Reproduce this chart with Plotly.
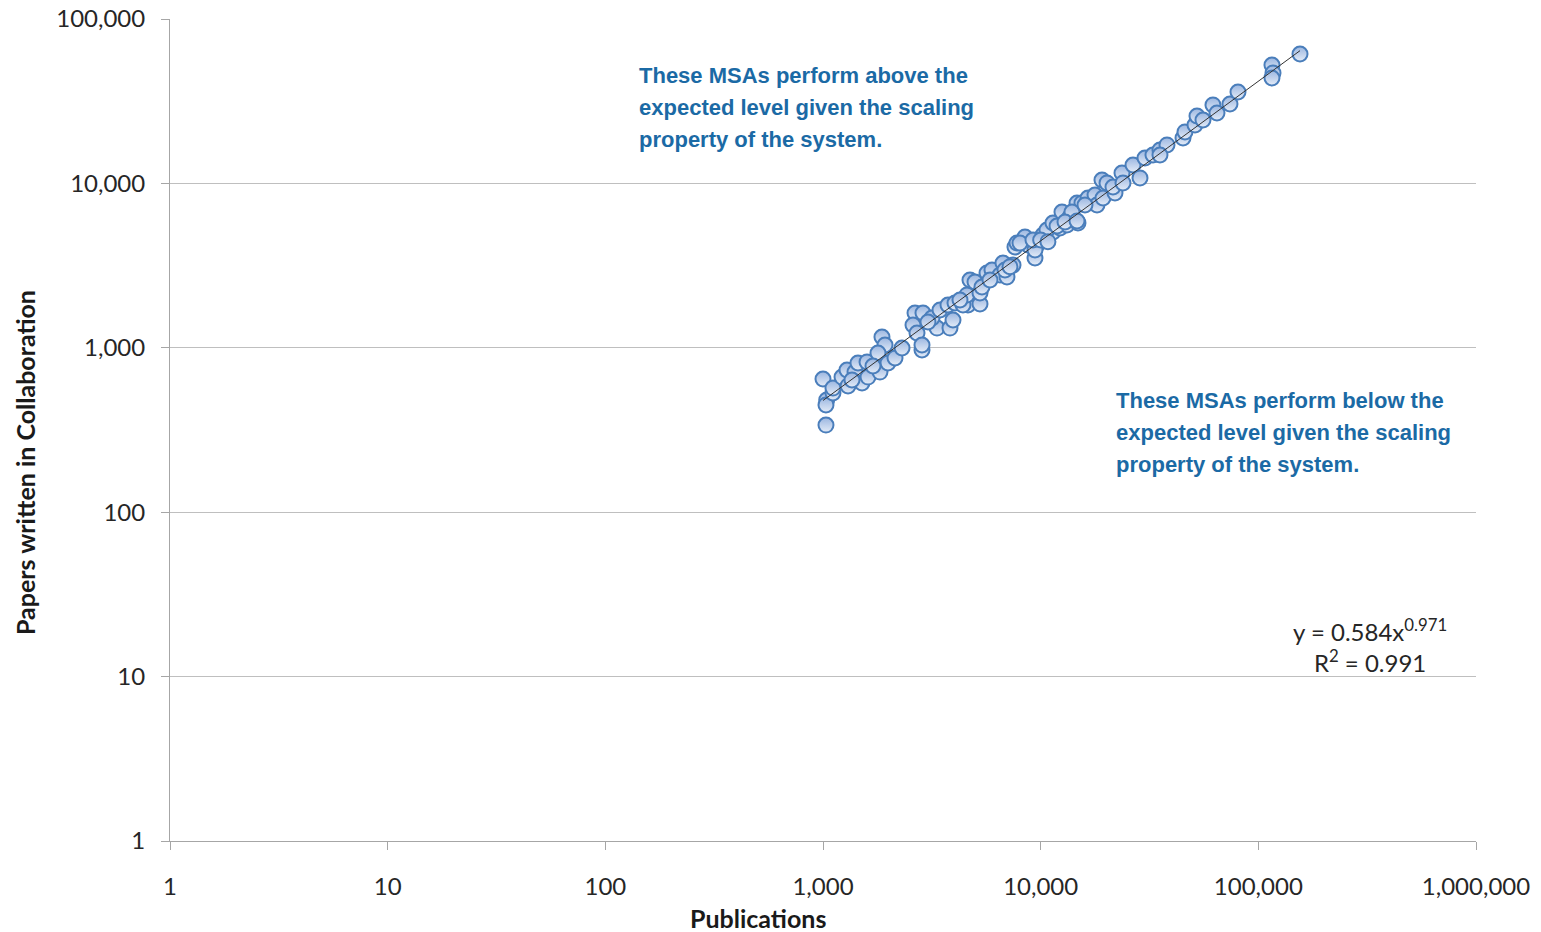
import numpy as np
import plotly.graph_objects as go

# Publications (x) and papers written in collaboration (y) per MSA
publications = [
    1000, 1040, 1032, 1032, 1111, 1111, 1223, 1289, 1303, 1403,
    1448, 1511, 1593, 1610, 1827, 1866, 1927, 1789, 1989, 2142,
    2307, 2647, 2591, 2703, 2880, 2850, 3340, 3168, 3832, 3956,
    4635, 5263, 3448, 3752, 1359, 1697, 4041, 4397, 4586, 4735,
    4993, 5263, 5376, 5668, 5976, 6504, 7003, 6713, 7464, 7621,
    7784, 8472, 8746, 9417, 9618, 10250, 10800, 11390, 12270, 13210,
    14840, 8035, 9417, 9220, 10690, 11390, 12530, 13630, 14690, 15480,
    16500, 17770, 18150, 19340, 19130, 20170, 21950, 21490, 23640, 23890,
    26560, 28600, 30150, 32810, 35330, 38050, 45070, 46030, 51170, 52260,
    55680, 61880, 64570, 74080, 80640, 115500, 116800, 115500, 155400,
    10000, 11890, 13930, 15980, 6857, 5851, 4260, 3036,
    7228, 10800, 12940, 14690, 35330, 2850,
]
collaboration = [
    646, 481, 449, 339, 531, 569, 664, 733, 586, 712,
    808, 611, 820, 664, 712, 1163, 1040, 930, 808, 867,
    997, 1628, 1376, 1230, 1628, 970, 1319, 1518, 1319, 1476,
    1821, 1847, 1698, 1821, 637, 775, 1873, 1821, 2096, 2585,
    2513, 2154, 2343, 2851, 2973, 2772, 2696, 3280, 3189, 4104,
    4340, 4721, 4220, 3518, 4220, 4854, 4656, 5061, 5354, 5585,
    5743, 4340, 3935, 4527, 5205, 5743, 6698, 6246, 7600, 7600,
    8152, 8501, 7389, 8152, 10490, 10060, 8742, 9509, 11570, 10060,
    12940, 10790, 14270, 14890, 15970, 17130, 18890, 20550, 22660, 25700,
    24300, 30000, 26800, 30410, 35970, 52510, 46950, 43770, 61260,
    4527, 5508, 6698, 7389, 2973, 2585, 1953, 1435,
    3114, 4420, 5825, 5906, 14890, 1040,
]

# Power-law trendline shown on the chart: y = 0.584 x^0.971, R^2 = 0.991
fit_coef = 0.584
fit_exp = 0.971
r_squared = 0.991

x_ticks = [1, 10, 100, 1000, 10000, 100000, 1000000]
x_tick_text = ["1", "10", "100", "1,000", "10,000", "100,000", "1,000,000"]
y_ticks = [1, 10, 100, 1000, 10000, 100000]
y_tick_text = ["1", "10", "100", "1,000", "10,000", "100,000"]

above_lines = ["These MSAs perform above the", "expected level given the scaling", "property of the system."]
below_lines = ["These MSAs perform below the", "expected level given the scaling", "property of the system."]

x_fit = np.logspace(np.log10(min(publications)), np.log10(max(publications)), 50)
y_fit = fit_coef * x_fit ** fit_exp

fig = go.Figure()
fig.add_trace(go.Scatter(
    x=publications, y=collaboration, mode="markers",
    marker=dict(size=15, color="#9bb6e0",
                gradient=dict(type="vertical", color="#e4ecf8"),
                line=dict(color="#4a7ebb", width=2)),
    showlegend=False, hoverinfo="x+y",
))
fig.add_trace(go.Scatter(
    x=x_fit, y=y_fit, mode="lines",
    line=dict(color="#333333", width=1),
    showlegend=False, hoverinfo="skip",
))

tick_font = dict(family="Lato, Carlito, Calibri, sans-serif", size=24, color="#262626")
fig.update_xaxes(
    type="log", range=[0, 6], tickvals=x_ticks, ticktext=x_tick_text,
    showgrid=False, showline=True, linecolor="#a6a6a6", linewidth=1,
    ticks="outside", ticklen=8, tickcolor="#a6a6a6", tickfont=tick_font,
    ticklabelstandoff=16, zeroline=False, automargin=False,
)
fig.update_yaxes(
    type="log", range=[0, 5], tickvals=y_ticks, ticktext=y_tick_text,
    showgrid=True, gridcolor="#bfbfbf", gridwidth=1,
    showline=True, linecolor="#a6a6a6", linewidth=1,
    ticks="outside", ticklen=8, tickcolor="#a6a6a6", tickfont=tick_font,
    ticklabelstandoff=11, zeroline=False, automargin=False,
)

note_font = dict(family="Liberation Sans Narrow, Arial Narrow, Liberation Sans, Arial, sans-serif",
                 size=22, color="#1b6aa5")
title_font = dict(family="Lato, Carlito, Calibri, sans-serif", size=25, color="#1a1a1a")

annotations = []
# line centres in paper coordinates (plot area spans 822 px vertically)
for i, line in enumerate(above_lines):
    annotations.append(dict(text=f"<b>{line}</b>", xref="paper", yref="paper",
                            x=0.3576, y=0.9307 - i * 0.0389, xanchor="left", yanchor="middle",
                            showarrow=False, font=note_font))
for i, line in enumerate(below_lines):
    annotations.append(dict(text=f"<b>{line}</b>", xref="paper", yref="paper",
                            x=0.7228, y=0.5353 - i * 0.0389, xanchor="left", yanchor="middle",
                            showarrow=False, font=note_font))
annotations += [
    dict(text=f"y = {fit_coef}x<sup>{fit_exp}</sup><br>R<sup>2</sup> = {r_squared}",
         xref="paper", yref="paper", x=0.9188, y=0.2384, xanchor="center", yanchor="middle",
         align="center", showarrow=False,
         font=dict(family="Lato, Carlito, Calibri, sans-serif", size=24, color="#262626")),
    dict(text="<b>Publications</b>", xref="paper", yref="paper", x=0.4502, y=-0.0937,
         xanchor="center", yanchor="middle", showarrow=False, font=title_font),
    dict(text="<b>Papers written in Collaboration</b>", xref="paper", yref="paper",
         x=-0.111, y=0.4599, xanchor="center", yanchor="middle", textangle=-90,
         showarrow=False, font=title_font),
]

fig.update_layout(
    width=1541, height=932,
    margin=dict(l=170, r=65, t=19, b=91, autoexpand=False),
    paper_bgcolor="white", plot_bgcolor="white",
    annotations=annotations,
)

fig.write_html("out.html", config={"displayModeBar": False},
               post_script="document.body.style.margin='0';document.body.style.overflow='hidden';")
